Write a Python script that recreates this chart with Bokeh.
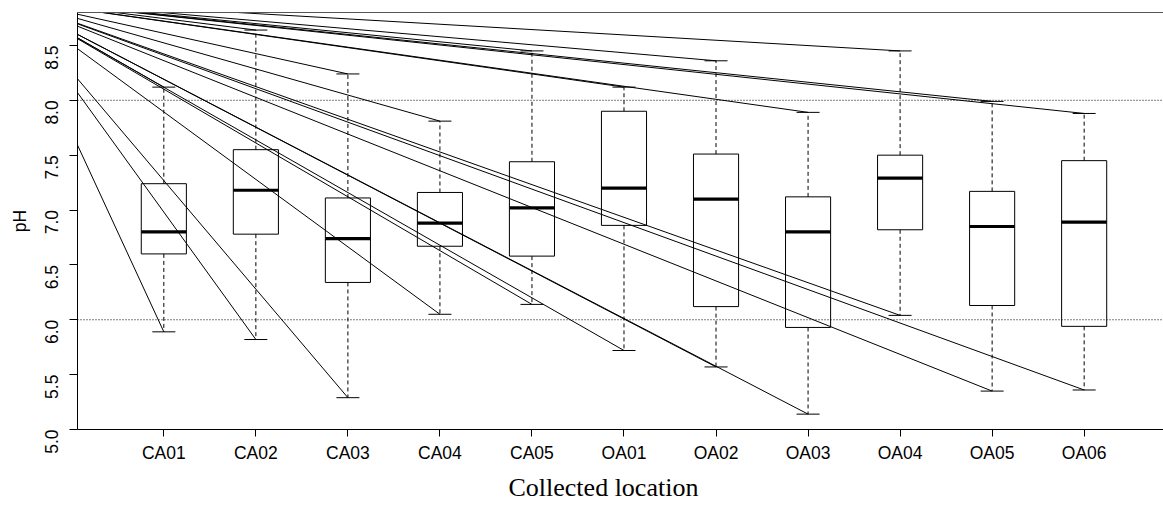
import math
from bokeh.plotting import figure
from bokeh.models import FixedTicker, Span, Range1d, NumeralTickFormatter, LinearAxis, Title
from bokeh.embed import file_html
from bokeh.resources import INLINE

# ---- data ----
categories = ["CA01", "CA02", "CA03", "CA04", "CA05",
              "OA01", "OA02", "OA03", "OA04", "OA05", "OA06"]
upper_whisker = [8.12, 8.64, 8.24, 7.81, 8.45, 8.12, 8.36, 7.89, 8.45, 7.99, 7.88]
q3_values     = [7.24, 7.55, 7.11, 7.16, 7.44, 7.90, 7.51, 7.12, 7.50, 7.17, 7.45]
median_values = [6.80, 7.18, 6.74, 6.88, 7.02, 7.20, 7.10, 6.80, 7.29, 6.85, 6.89]
q1_values     = [6.60, 6.78, 6.34, 6.67, 6.58, 6.86, 6.12, 5.93, 6.82, 6.13, 5.94]
lower_whisker = [5.89, 5.82, 5.29, 6.05, 6.14, 5.72, 5.57, 5.14, 6.04, 5.35, 5.36]
y_ticks = [5.0, 5.5, 6.0, 6.5, 7.0, 7.5, 8.0, 8.5]
reference_levels = [6.0, 8.0]
x_title = "Collected location"
y_title = "pH"
# common origin of the straight rays drawn to every whisker end (outside the frame)
ray_origin_x = -0.67
ray_origin_y = 8.92

positions = list(range(1, len(categories) + 1))
half_box = 0.245
half_cap = 0.125

p = figure(width=1163, height=506, output_backend="svg", toolbar_location=None,
           x_range=Range1d(0.062, 11.862), y_range=Range1d(5.0, 8.8),
           min_border_left=77, min_border_right=0, min_border_top=12,
           min_border_bottom=77)
p.xgrid.visible = False
p.ygrid.visible = False
p.outline_line_color = None
p.background_fill_color = "white"
p.border_fill_color = "white"

xa = p.below[0]
ya = p.left[0]

# boxes (unfilled)
p.quad(left=[x - half_box for x in positions], right=[x + half_box for x in positions],
       bottom=q1_values, top=q3_values, fill_color=None, line_color="black", line_width=1)
# medians
p.segment(x0=[x - half_box for x in positions], x1=[x + half_box for x in positions],
          y0=median_values, y1=median_values, line_color="black", line_width=3.2,
          line_cap="butt")
# whiskers
p.segment(x0=positions, x1=positions, y0=q3_values, y1=upper_whisker,
          line_color="black", line_width=1, line_dash="4 3")
p.segment(x0=positions, x1=positions, y0=q1_values, y1=lower_whisker,
          line_color="black", line_width=1, line_dash="4 3")
# caps
p.segment(x0=[x - half_cap for x in positions], x1=[x + half_cap for x in positions],
          y0=upper_whisker, y1=upper_whisker, line_color="black", line_width=1)
p.segment(x0=[x - half_cap for x in positions], x1=[x + half_cap for x in positions],
          y0=lower_whisker, y1=lower_whisker, line_color="black", line_width=1)
# rays from the common origin to each whisker end
n = len(positions)
p.segment(x0=[ray_origin_x] * n, y0=[ray_origin_y] * n, x1=positions, y1=upper_whisker,
          line_color="black", line_width=1)
p.segment(x0=[ray_origin_x] * n, y0=[ray_origin_y] * n, x1=positions, y1=lower_whisker,
          line_color="black", line_width=1)

# dotted reference lines
for lv in reference_levels:
    p.add_layout(Span(location=lv, dimension="width", line_color="black",
                      line_width=1, line_dash="1 2"))

# top frame line
top_axis = LinearAxis(ticker=FixedTicker(ticks=[]), major_tick_in=0, major_tick_out=0,
                      minor_tick_line_color=None, major_tick_line_color=None,
                      major_label_text_font_size="0px", major_label_standoff=0,
                      axis_line_color="#555555", axis_line_width=1)
p.add_layout(top_axis, "above")

# x axis
xa.ticker = FixedTicker(ticks=positions)
xa.major_label_overrides = {pos: cat for pos, cat in zip(positions, categories)}
xa.minor_tick_line_color = None
xa.major_tick_in = 0
xa.major_tick_out = 7
xa.major_label_standoff = 6
xa.major_label_text_font = "Liberation Sans"
xa.major_label_text_font_size = "17.5px"
xa.major_label_text_color = "black"
xa.axis_line_color = "black"
xa.major_tick_line_color = "black"

# x title below the axis, starting where the reference's title starts
p.add_layout(Title(text=x_title, align="left", offset=431, standoff=10,
                   text_font="Liberation Serif", text_font_size="26px",
                   text_font_style="normal", text_color="black"), "below")

# y axis
ya.ticker = FixedTicker(ticks=y_ticks)
ya.formatter = NumeralTickFormatter(format="0.0")
ya.minor_tick_line_color = None
ya.major_tick_in = 0
ya.major_tick_out = 8
ya.major_label_standoff = 18
ya.major_label_orientation = math.pi / 2
ya.major_label_text_font = "Liberation Sans"
ya.major_label_text_font_size = "17.5px"
ya.major_label_text_color = "black"
ya.axis_line_color = "black"
ya.major_tick_line_color = "black"
ya.axis_label = y_title
ya.axis_label_text_font = "Liberation Sans"
ya.axis_label_text_font_size = "17.5px"
ya.axis_label_text_font_style = "normal"
ya.axis_label_text_color = "black"
ya.axis_label_standoff = 6

open("out.html", "w").write(file_html(p, INLINE))
